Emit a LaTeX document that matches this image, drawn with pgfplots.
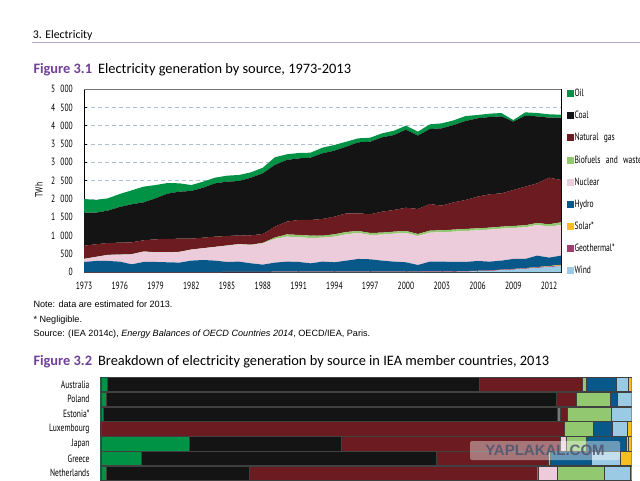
\documentclass[border=0pt]{standalone}
\usepackage{fontspec}
\setmainfont{Carlito}
\newfontfamily\cond[FakeStretch=0.72]{PT Sans}
\newfontfamily\arial{Liberation Sans}
\usepackage{pgfplots}
\usepackage{pgfplotstable}
\pgfplotsset{compat=1.18}
\definecolor{oilc}{RGB}{0,146,69}
\definecolor{coalc}{RGB}{20,20,20}
\definecolor{gasc}{RGB}{108,28,32}
\definecolor{bioc}{RGB}{146,200,112}
\definecolor{nucc}{RGB}{236,204,218}
\definecolor{hydroc}{RGB}{8,88,138}
\definecolor{solarc}{RGB}{246,190,30}
\definecolor{geoc}{RGB}{160,60,110}
\definecolor{windc}{RGB}{155,202,228}
\definecolor{otherc}{RGB}{120,120,120}
\definecolor{figpurple}{RGB}{112,64,152}
\definecolor{rulec}{RGB}{183,170,200}
\definecolor{gridc}{RGB}{175,190,205}

\pgfplotstableread{
year wind geo solar hydro nuclear bio gas coal oil
1973 0 2 0 280 82 3 360 900 373
1974 0 2 0 307 109 3 343 863 346
1975 0 3 0 306 164 3 324 882 336
1976 0 3 0 288 191 3 324 973 354
1977 0 3 0 215 273 3 324 1036 382
1978 0 3 0 279 282 3 306 1036 427
1979 0 3 0 279 263 3 352 1118 362
1980 0 5 0 268 272 3 361 1236 291
1981 0 5 0 259 291 3 360 1282 227
1982 0 5 0 313 300 3 297 1300 162
1983 0 6 0 330 319 3 287 1364 164
1984 0 7 0 311 373 4 278 1454 155
1985 0 9 0 273 445 5 259 1482 163
1986 0 10 0 281 473 6 239 1481 165
1987 0 11 0 234 500 8 256 1573 145
1988 0 12 0 197 582 12 242 1655 154
1989 2 14 0 248 645 40 296 1682 209
1990 3 16 0 272 682 60 349 1681 155
1991 3 16 0 263 673 65 407 1682 145
1992 3 16 0 226 691 65 426 1700 136
1993 3 17 0 271 654 55 455 1790 155
1994 3 16 0 254 700 63 482 1800 154
1995 3 14 0 301 718 64 509 1818 136
1996 3 15 0 346 709 54 482 1936 109
1997 3 15 0 337 663 55 509 1981 109
1998 3 15 0 300 709 55 572 2027 109
1999 5 15 0 271 764 54 591 2045 118
2000 6 14 0 253 800 54 636 2127 110
2001 7 14 0 179 791 54 682 2000 109
2002 10 14 0 267 791 54 727 2046 127
2003 11 14 0 266 800 54 673 2109 136
2004 14 15 0 253 827 55 745 2109 127
2005 18 15 0 249 845 55 791 2154 136
2006 27 15 0 267 836 55 863 2137 90
2007 35 15 0 241 873 54 909 2109 91
2008 56 15 1 246 873 54 909 2100 91
2009 74 15 2 273 845 55 981 1863 45
2010 95 16 3 250 863 55 1054 1936 91
2011 120 17 6 312 836 54 1082 1827 91
2012 141 17 12 230 845 64 1273 1636 91
2013 168 17 20 250 836 73 1154 1700 82
}\gendata

\begin{document}
\begin{tikzpicture}[x=1pt,y=1pt]
\useasboundingbox (0,0) rectangle (640,480);
\clip (0,0) rectangle (640,480);

% page header
\node[anchor=base west, inner sep=0pt, font=\fontsize{11.8}{12}\selectfont] at (32.7,441.7) {3. Electricity};
\draw[rulec, line width=1pt] (31.7,437.7) -- (640,437.7);

% figure 3.1 title
\node[anchor=base west, inner sep=0pt, font=\fontsize{14.4}{15}\selectfont] at (33.3,406.7) {\textcolor{figpurple}{\bfseries Figure 3.1}\hspace{6pt}Electricity generation by source, 1973-2013};

\node[rotate=90, font=\cond\fontsize{10.5}{11}\selectfont] at (39,290) {TWh};

\begin{axis}[
  at={(84pt,207.7pt)}, anchor=south west,
  scale only axis, width=477pt, height=183.3pt,
  xmin=1973, xmax=2013, ymin=0, ymax=5000,
  stack plots=y,
  xtick={1973,1976,...,2012},
  xticklabels={1973,1976,1979,1982,1985,1988,1991,1994,1997,2000,2003,2006,2009,2012},
  ytick={0,500,...,5000},
  yticklabels={0,500,1\enspace000,1\enspace500,2\enspace000,2\enspace500,3\enspace000,3\enspace500,4\enspace000,4\enspace500,5\enspace000},
  tick label style={font=\cond\fontsize{10.5}{11}\selectfont, inner sep=0pt},
  xticklabel style={yshift=-10pt},
  yticklabel style={xshift=-11pt},
  tick align=inside, xtick pos=bottom, ytick pos=left,
  major tick length=3pt, tick style={black, thin},
  ymajorgrids, grid style={gridc, dash pattern=on 4pt off 3pt, line width=0.6pt},
  axis line style={black, line width=0.6pt},
  legend style={at={(1,1)}, anchor=north west, xshift=5.3pt, yshift=0pt, draw=none, fill=none,
    inner sep=0pt, font=\cond\fontsize{10.5}{11}\selectfont, row sep=13.1pt,
    nodes={inner sep=1pt, text height=6.5pt, text depth=0.5pt}},
  legend cell align=left,
  legend image code/.code={\fill[#1] (0pt,-3.5pt) rectangle (7pt,3.5pt);},
  reverse legend,
]
\addplot[fill=windc, draw=none] table[x=year,y=wind]{\gendata} \closedcycle;
\addplot[fill=geoc, draw=none] table[x=year,y=geo]{\gendata} \closedcycle;
\addplot[fill=solarc, draw=none] table[x=year,y=solar]{\gendata} \closedcycle;
\addplot[fill=hydroc, draw=none] table[x=year,y=hydro]{\gendata} \closedcycle;
\addplot[fill=nucc, draw=none] table[x=year,y=nuclear]{\gendata} \closedcycle;
\addplot[fill=bioc, draw=none] table[x=year,y=bio]{\gendata} \closedcycle;
\addplot[fill=gasc, draw=none] table[x=year,y=gas]{\gendata} \closedcycle;
\addplot[fill=coalc, draw=none] table[x=year,y=coal]{\gendata} \closedcycle;
\addplot[fill=oilc, draw=none] table[x=year,y=oil]{\gendata} \closedcycle;
\legend{Wind, Geothermal*, Solar*, Hydro, Nuclear, Biofuels\enspace and\enspace waste, Natural\enspace gas, Coal, Oil}
\draw[black!55, line width=2pt] (rel axis cs:0,1) -- (rel axis cs:1,1);
\end{axis}

% notes
\node[anchor=base west, inner sep=0pt, font=\arial\fontsize{9.1}{9}\selectfont] at (33.3,172.7) {Note: data are estimated for 2013.};
\node[anchor=base west, inner sep=0pt, font=\arial\fontsize{9.1}{9}\selectfont] at (33.3,157.3) {* Negligible.};
\node[anchor=base west, inner sep=0pt, font=\arial\fontsize{9.1}{9}\selectfont] at (33.3,143.3) {Source: (IEA 2014c), \textit{Energy Balances of OECD Countries 2014}, OECD/IEA, Paris.};

% figure 3.2 title
\node[anchor=base west, inner sep=0pt, font=\fontsize{14.4}{15}\selectfont] at (33.3,115) {\textcolor{figpurple}{\bfseries Figure 3.2}\hspace{6pt}Breakdown of electricity generation by source in IEA member countries, 2013};

\begin{axis}[
  at={(100.7pt,103pt)}, anchor=north west,
  scale only axis, width=531pt, height=162.8pt,
  xmin=0, xmax=100, ymin=-10.5, ymax=0.5,
  xbar stacked, bar width=14.3pt,
  xtick=\empty,
  ytick={-6,...,0},
  yticklabels={Netherlands,Greece,Japan,Luxembourg,Estonia*,Poland,Australia},
  major tick length=0pt,
  tick label style={font=\cond\fontsize{10.5}{11}\selectfont, inner sep=0pt},
  yticklabel style={xshift=-11pt},
  axis line style={black!75, line width=0.5pt},
  every axis plot/.append style={draw=black!75, line width=0.4pt},
]
\addplot[fill=oilc] coordinates {(1.3,0) (1.1,-1) (0.4,-2) (0,-3) (16.6,-4) (7.6,-5) (1.0,-6)};
\addplot[fill=coalc] coordinates {(69.9,0) (84.6,-1) (85.5,-2) (0,-3) (28.7,-4) (55.6,-5) (26.9,-6)};
\addplot[fill=otherc] coordinates {(0,0) (0,-1) (0.7,-2) (0,-3) (0,-4) (0,-5) (0,-6)};
\addplot[fill=gasc] coordinates {(19.4,0) (3.8,-1) (1.2,-2) (87.3,-3) (41.3,-4) (21.1,-5) (54.4,-6)};
\addplot[fill=nucc] coordinates {(0,0) (0,-1) (0,-2) (0,-3) (1.0,-4) (0,-5) (3.7,-6)};
\addplot[fill=bioc] coordinates {(0.8,0) (6.4,-1) (8.3,-2) (5.5,-3) (3.8,-4) (0.3,-5) (8.8,-6)};
\addplot[fill=hydroc] coordinates {(5.6,0) (1.3,-1) (0,-2) (3.5,-3) (7.5,-4) (7.7,-5) (0,-6)};
\addplot[fill=windc] coordinates {(2.4,0) (2.8,-1) (3.9,-2) (2.9,-3) (0.5,-4) (5.6,-5) (4.9,-6)};
\addplot[fill=solarc] coordinates {(0.6,0) (0,-1) (0,-2) (0.8,-3) (0.6,-4) (2.1,-5) (0.3,-6)};
\end{axis}

% watermark
\node[fill=white, fill opacity=0.4, text opacity=0.85, rounded corners=2pt, minimum width=150pt, minimum height=19pt, inner sep=0pt,
  text={rgb,255:red,80;green,85;blue,110}, font=\arial\bfseries\fontsize{15}{15}\selectfont] at (545,29.5) {YAPLAKAL.COM};
\end{tikzpicture}
\end{document}
